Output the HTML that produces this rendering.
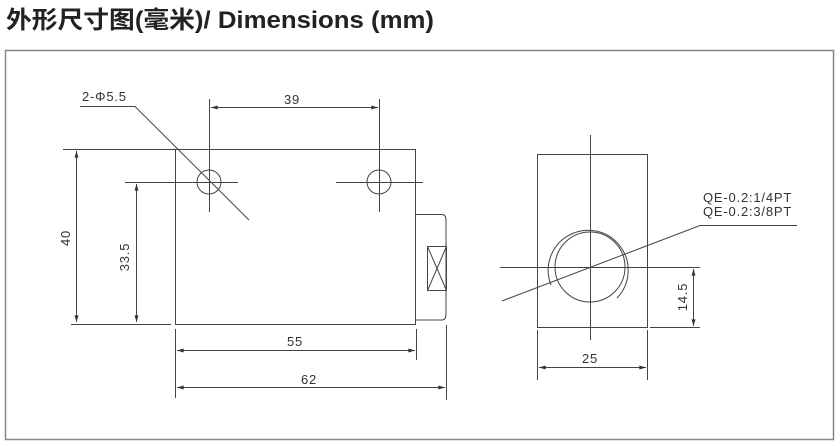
<!DOCTYPE html>
<html><head><meta charset="utf-8"><style>
html,body{margin:0;padding:0;background:#fff;width:840px;height:446px;overflow:hidden}
svg{display:block}
text{font-family:"Liberation Sans",sans-serif;fill:#333}
</style></head><body>
<svg width="840" height="446" viewBox="0 0 840 446" xmlns="http://www.w3.org/2000/svg">
<defs>
<marker id="a" viewBox="0 0 10 6" refX="10" refY="3" markerWidth="8" markerHeight="4" orient="auto-start-reverse" markerUnits="userSpaceOnUse"><path d="M0,0L10,3L0,6z" fill="#333"/></marker>
</defs>
<text x="6" y="28" textLength="428" lengthAdjust="spacingAndGlyphs" style="font-family:'Liberation Sans','Noto Sans CJK SC',sans-serif;font-weight:bold;font-size:24px;fill:#222">外形尺寸图(毫米)/ Dimensions (mm)</text>
<rect x="5.5" y="50.5" width="828" height="389" fill="none" stroke="#888" stroke-width="1.5"/>
<g stroke="#444" stroke-width="1" fill="none">
<rect x="175.5" y="149.5" width="240" height="175"/>
<path d="M415.5,214.5H442q4,0 4,6V314q0,6-4,6H415.5"/>
<rect x="427.5" y="246.5" width="19" height="44"/>
<path d="M427.5,246.5L446.5,290.5M446.5,246.5L427.5,290.5"/>
<circle cx="209" cy="182" r="12"/>
<circle cx="379" cy="182" r="12"/>
<path d="M209.5,99V212M379.5,99V212M125,182.5H238M336,182.5H423"/>
<path d="M80,106.5H135L249,220"/>
<path d="M63,149.5H175M71,324.5H171"/>
<path d="M76.5,151V322" marker-start="url(#a)" marker-end="url(#a)"/>
<path d="M136.5,184V322" marker-start="url(#a)" marker-end="url(#a)"/>
<path d="M211,107.5H378" marker-start="url(#a)" marker-end="url(#a)"/>
<path d="M175.5,329V398M416.5,329V360M446.5,325V400"/>
<path d="M177,350.5H415" marker-start="url(#a)" marker-end="url(#a)"/>
<path d="M177,387.5H445" marker-start="url(#a)" marker-end="url(#a)"/>
<rect x="537.5" y="154.5" width="110" height="173"/>
<path d="M590.5,135V340M500,267.5H700"/>
<circle cx="590" cy="267" r="35"/>
<path d="M551,285A40,40 0 1 1 617,298"/>
<path d="M502,301L700,225.5H797"/>
<path d="M650,327.5H700"/>
<path d="M693.5,269V326" marker-start="url(#a)" marker-end="url(#a)"/>
<path d="M537.5,330V380M647.5,330V380"/>
<path d="M539,367.5H646" marker-start="url(#a)" marker-end="url(#a)"/>
</g>
<g font-size="13" letter-spacing="0.8">
<text x="82" y="101">2-Φ5.5</text>
<text x="284" y="104">39</text>
<text x="287" y="346">55</text>
<text x="301" y="384">62</text>
<text x="582" y="363">25</text>
<text x="703" y="202">QE-0.2:1/4PT</text>
<text x="703" y="216">QE-0.2:3/8PT</text>
<text transform="translate(70,238) rotate(-90)" text-anchor="middle">40</text>
<text transform="translate(129,257) rotate(-90)" text-anchor="middle">33.5</text>
<text transform="translate(687,297) rotate(-90)" text-anchor="middle">14.5</text>
</g>
</svg>
</body></html>
